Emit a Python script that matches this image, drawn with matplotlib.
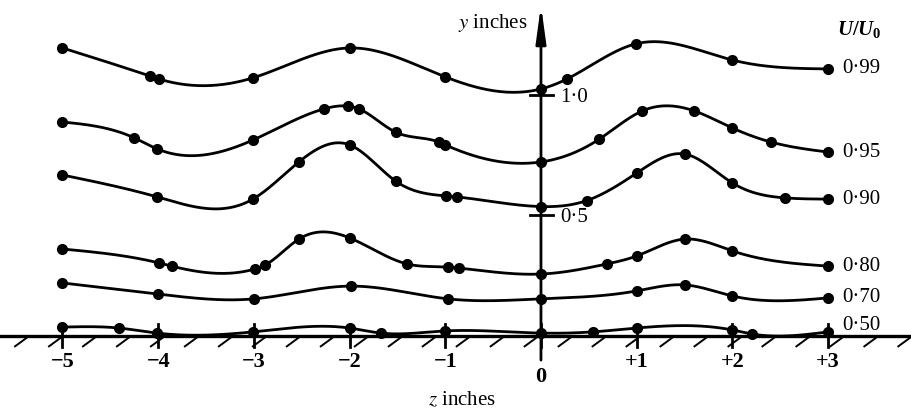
import matplotlib
matplotlib.use('Agg')
import matplotlib.pyplot as plt
import numpy as np

plt.rcParams['font.family'] = ['Liberation Serif', 'DejaVu Serif']
plt.rcParams['mathtext.fontset'] = 'custom'
plt.rcParams['mathtext.it'] = 'Liberation Serif:italic:bold'
plt.rcParams['mathtext.rm'] = 'Liberation Serif:bold'

# velocity contours U/U0 : spanwise position z (in) vs height y (in)
z_099 = [-5, -4.09, -3.99, -3.01, -2.0, -1.0, 0, 0.27, 0.99, 2.0, 3.0]
y_099 = [1.195, 1.079, 1.066, 1.071, 1.195, 1.075, 1.025, 1.066, 1.212, 1.145, 1.108]

z_095 = [-5, -4.25, -4.01, -3.01, -2.27, -2.02, -1.90, -1.52, -1.07, -1.0, 0,
         0.61, 1.06, 1.60, 2.0, 2.40, 3.0]
y_095 = [0.888, 0.822, 0.776, 0.813, 0.942, 0.954, 0.942, 0.846, 0.805, 0.793,
         0.722, 0.817, 0.934, 0.934, 0.863, 0.805, 0.763]

z_090 = [-5, -4.01, -3.01, -2.53, -2.0, -1.52, -0.99, -0.88, 0, 0.48, 1.0, 1.5,
         2.0, 2.55, 3.0]
y_090 = [0.668, 0.577, 0.568, 0.722, 0.793, 0.643, 0.581, 0.577, 0.537, 0.562,
         0.676, 0.755, 0.635, 0.573, 0.568]

z_080 = [-5, -3.99, -3.86, -2.99, -2.88, -2.53, -2.0, -1.40, -0.97, -0.86, 0,
         0.69, 1.0, 1.5, 2.0, 3.0]
y_080 = [0.361, 0.303, 0.290, 0.278, 0.295, 0.402, 0.407, 0.299, 0.286, 0.282,
         0.257, 0.299, 0.332, 0.402, 0.353, 0.290]

z_070 = [-5, -4, -3, -1.99, -0.97, 0, 1, 1.5, 2, 3]
y_070 = [0.220, 0.174, 0.154, 0.207, 0.154, 0.154, 0.187, 0.212, 0.166, 0.158]

z_050 = [-5, -4.41, -4.01, -3.01, -2.0, -1.67, -1.0, 0, 0.54, 1.0, 2.0, 2.21, 3.0]
y_050 = [0.037, 0.033, 0.012, 0.017, 0.033, 0.012, 0.021, 0.012, 0.017, 0.033,
         0.025, 0.008, 0.017]

curve_labels = ['0·99', '0·95', '0·90', '0·80', '0·70', '0·50']
xtick_vals = [-5, -4, -3, -2, -1, 0, 1, 2, 3]
xtick_text = ['−5', '−4', '−3', '−2', '−1', '0', '+1', '+2', '+3']
ytick_vals = [0.5, 1.0]
ytick_text = ['0·5', '1·0']


def smooth(x, y, n=500):
    # natural cubic spline through the measured points
    x = np.asarray(x, float)
    y = np.asarray(y, float)
    h = np.diff(x)
    m = len(x)
    A = np.zeros((m, m))
    r = np.zeros(m)
    A[0, 0] = A[-1, -1] = 1
    for i in range(1, m - 1):
        A[i, i - 1] = h[i - 1]
        A[i, i] = 2 * (h[i - 1] + h[i])
        A[i, i + 1] = h[i]
        r[i] = 3 * ((y[i + 1] - y[i]) / h[i] - (y[i] - y[i - 1]) / h[i - 1])
    c = np.linalg.solve(A, r)
    b = (y[1:] - y[:-1]) / h - h * (2 * c[:-1] + c[1:]) / 3
    d = (c[1:] - c[:-1]) / (3 * h)
    xs = np.linspace(x[0], x[-1], n)
    k = np.clip(np.searchsorted(x, xs) - 1, 0, m - 2)
    t = xs - x[k]
    return xs, y[k] + b[k] * t + c[k] * t ** 2 + d[k] * t ** 3


fig = plt.figure(figsize=(9.12, 4.13), dpi=100)
ax = fig.add_axes([0, 0, 1, 1])
ax.set_xlim(-5.653, 3.877)
ax.set_ylim(-0.3195, 1.394)
ax.axis('off')

curves = [(z_099, y_099), (z_095, y_095), (z_090, y_090),
          (z_080, y_080), (z_070, y_070), (z_050, y_050)]
for (zz, yy), lab in zip(curves, curve_labels):
    xs, ys = smooth(zz, yy)
    ax.plot(xs, ys, color='k', lw=2.0, zorder=3)
    ax.plot(zz, yy, 'o', color='k', ms=7, zorder=4)
    dy = 0.025 if lab == '0·50' else 0.0
    ax.text(3.145, yy[-1] + dy, lab, fontsize=15, va='center', ha='left')

ax.text(3.09, 1.27, r'$U/U_0$', fontsize=15, va='center', ha='left')

# wall (z axis) with hatching
ax.axhline(0, color='k', lw=2.4, zorder=2)
for hx in np.arange(-5.496, 3.9, 0.355):
    ax.plot([hx, hx + 0.12], [-0.043, -0.008], color='k', lw=1.4)
for tx, tl in zip(xtick_vals, xtick_text):
    ax.plot([tx, tx], [-0.046, 0.05], color='k', lw=2.0)
    ty = -0.17 if tx == 0 else -0.108
    ax.text(tx, ty, tl, fontsize=16, fontweight='bold', ha='center', va='center')
ax.text(-0.826, -0.266, '$z$ inches', fontsize=15, ha='center', va='center',
        math_fontfamily='stix')

# y axis with arrow
ax.annotate('', xy=(0, 1.373), xytext=(0, -0.1),
            arrowprops=dict(arrowstyle='-|>,head_length=2.2,head_width=0.3',
                            lw=2.0, color='k', shrinkA=0, shrinkB=0))
for yv, yl in zip(ytick_vals, ytick_text):
    ax.plot([-0.115, 0.125], [yv, yv], color='k', lw=2.0)
    ax.text(0.2, yv - 0.01, yl, fontsize=15, va='center', ha='left')
ax.text(-0.136, 1.30, '$y$ inches', fontsize=15, ha='right', va='center',
        math_fontfamily='stix')

fig.savefig('out.png', dpi=100)
